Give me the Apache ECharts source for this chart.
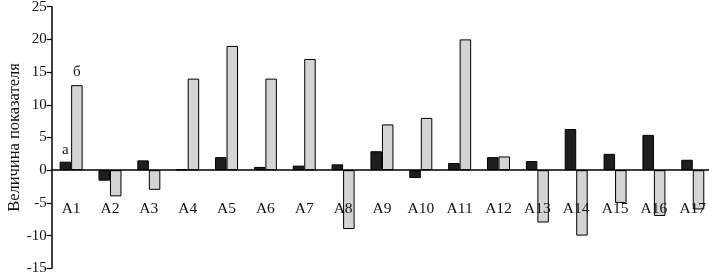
<!DOCTYPE html>
<html>
<head>
<meta charset="utf-8">
<script src="https://cdn.jsdelivr.net/npm/echarts@6/dist/echarts.min.js"></script>
<style>html,body{margin:0;padding:0;background:#fff}#c{width:709px;height:280px}</style>
</head>
<body>
<div id="c"></div>
<script>
const categories = ['A1','A2','A3','A4','A5','A6','A7','A8','A9','A10','A11','A12','A13','A14','A15','A16','A17'];
const seriesA = [1.3, -1.6, 1.5, 0.1, 2.0, 0.5, 0.7, 0.9, 2.9, -1.2, 1.1, 2.0, 1.4, 6.3, 2.5, 5.4, 1.6];
const seriesB = [13, -4, -3, 14, 19, 14, 17, -9, 7, 8, 20, 2.1, -8, -10, -5, -7, -6];
const seriesNames = ['а', 'б'];
const yTitle = 'Величина показателя';

const font = '"Liberation Serif", "DejaVu Serif", serif';
function withFirstLabel(arr, text) {
  return arr.map((v, i) => i === 0 ? {value: v, label: {show: true, formatter: text}} : v);
}
const chart = echarts.init(document.getElementById('c'), null, {renderer: 'canvas'});
chart.setOption({
  animation: false,
  grid: {left: 51.7, right: -3.2, top: 6.7, bottom: 11.7, containLabel: false, outerBoundsMode: 'none'},
  xAxis: {
    type: 'category',
    data: categories,
    z: 5,
    axisLine: {onZero: true, lineStyle: {color: '#000', width: 1.5}},
    axisTick: {show: false},
    axisLabel: {margin: -67, fontFamily: font, fontSize: 15.5, color: '#111'}
  },
  yAxis: {
    type: 'value',
    min: -15, max: 25, interval: 5,
    name: yTitle,
    nameLocation: 'middle',
    nameRotate: 90,
    nameGap: 29,
    nameMoveOverlap: false,
    nameTextStyle: {fontFamily: font, fontSize: 16.5, color: '#111'},
    axisLine: {show: true, lineStyle: {color: '#000', width: 1.5}},
    axisTick: {show: true, inside: false, length: 5, lineStyle: {color: '#000', width: 1.2}},
    axisLabel: {margin: 5, fontFamily: font, fontSize: 15, color: '#111'},
    splitLine: {show: false}
  },
  series: [
    {
      name: seriesNames[0], type: 'bar', barWidth: 11.5, barGap: 0,
      data: withFirstLabel(seriesA, seriesNames[0]),
      itemStyle: {color: '#1e1e1e', borderColor: '#000', borderWidth: 1},
      label: {show: false, position: 'top', distance: 4, fontFamily: font, fontSize: 15, color: '#111'}
    },
    {
      name: seriesNames[1], type: 'bar', barWidth: 11.5, barGap: 0,
      data: withFirstLabel(seriesB, seriesNames[1]),
      itemStyle: {color: '#d4d4d4', borderColor: '#000', borderWidth: 1},
      label: {show: false, position: 'top', distance: 6, fontFamily: font, fontSize: 15, color: '#111'}
    }
  ]
});
</script>
</body>
</html>
